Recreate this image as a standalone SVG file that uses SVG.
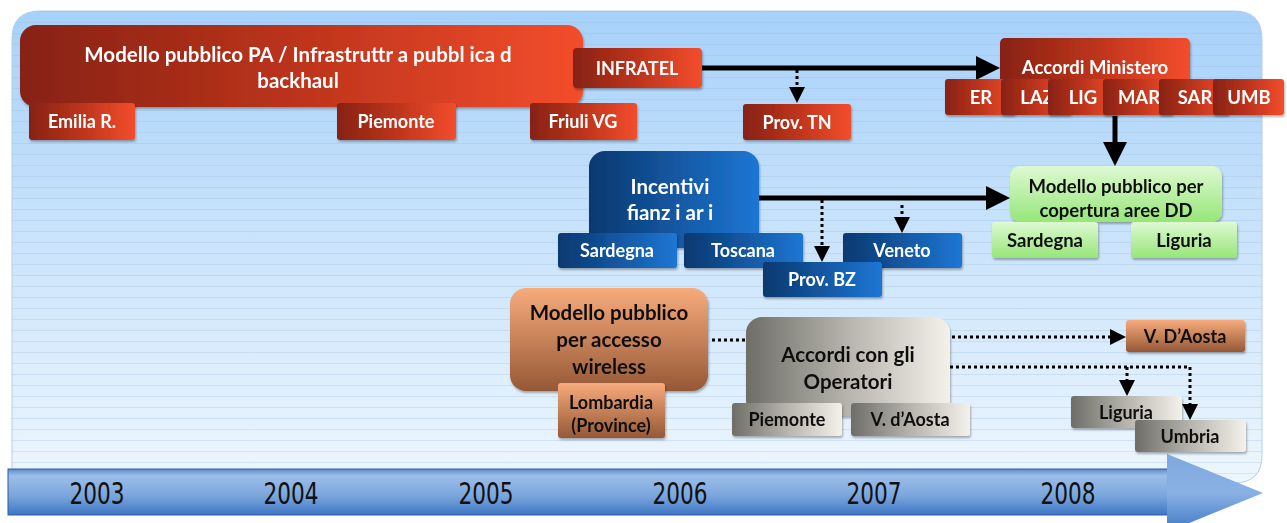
<svg xmlns="http://www.w3.org/2000/svg" width="1287" height="523" viewBox="0 0 1287 523">
<defs>
<style>
.t{font-family:Lato,"Open Sans","Liberation Sans",sans-serif;font-weight:bold;text-anchor:middle}
.w{fill:#ffffff}
.k{fill:#111111}
.s15{font-size:18px}
.s16{font-size:18.5px}
.s17{font-size:20.5px}
.s18{font-size:20.5px}
.yr{font-family:"Liberation Sans Narrow","DejaVu Sans Condensed","Liberation Sans",sans-serif;font-size:31px;fill:#111111;text-anchor:middle}
.thick{stroke:#000000;stroke-width:5;fill:none}
.dot{stroke:#000000;stroke-width:3;stroke-dasharray:3 3;fill:none}
.red{fill:url(#gRed)}
.blue{fill:url(#gBlue)}
.grey{fill:url(#gGrey)}
.green{fill:url(#gGreen)}
.orng{fill:url(#gOrange)}
.box{filter:url(#sh)}
</style>
<linearGradient id="gPanel" x1="0" y1="0" x2="0" y2="1">
<stop offset="0" stop-color="#a7d1fa"/>
<stop offset="0.5" stop-color="#cbe4fb"/>
<stop offset="1" stop-color="#edf6fe"/>
</linearGradient>
<linearGradient id="gRed" x1="0" y1="0" x2="1" y2="0">
<stop offset="0" stop-color="#872212"/>
<stop offset="0.5" stop-color="#bd341c"/>
<stop offset="1" stop-color="#f34d2c"/>
</linearGradient>
<linearGradient id="gBlue" x1="0" y1="0" x2="1" y2="0">
<stop offset="0" stop-color="#0a386f"/>
<stop offset="1" stop-color="#1d76d4"/>
</linearGradient>
<linearGradient id="gGrey" x1="0" y1="0" x2="1" y2="0">
<stop offset="0" stop-color="#6e6e68"/>
<stop offset="0.5" stop-color="#b6b4ac"/>
<stop offset="1" stop-color="#f3f1e9"/>
</linearGradient>
<linearGradient id="gGreen" x1="0" y1="0" x2="0" y2="1">
<stop offset="0" stop-color="#def9d2"/>
<stop offset="1" stop-color="#97e679"/>
</linearGradient>
<linearGradient id="gOrange" x1="0" y1="0" x2="0" y2="1">
<stop offset="0" stop-color="#f7ab7c"/>
<stop offset="1" stop-color="#955836"/>
</linearGradient>
<linearGradient id="gTime" x1="0" y1="0" x2="0" y2="1">
<stop offset="0" stop-color="#5d8dcd"/>
<stop offset="0.15" stop-color="#9cbfea"/>
<stop offset="0.6" stop-color="#79a4db"/>
<stop offset="1" stop-color="#3d76c6"/>
</linearGradient>
<linearGradient id="gHead" x1="0" y1="0" x2="0" y2="1">
<stop offset="0" stop-color="#7ea8df"/>
<stop offset="0.5" stop-color="#8ab1e4"/>
<stop offset="1" stop-color="#3e77c6"/>
</linearGradient>
<pattern id="stripes" width="20" height="11" patternUnits="userSpaceOnUse">
<line x1="0" y1="0.5" x2="20" y2="0.5" stroke="#8fb3d6" stroke-opacity="0.25" stroke-width="1"/>
</pattern>
<filter id="sh" x="-10%" y="-10%" width="120%" height="130%">
<feDropShadow dx="1" dy="2" stdDeviation="1.2" flood-color="#000000" flood-opacity="0.3"/>
</filter>
<marker id="aThick" viewBox="0 0 24 24" markerWidth="24" markerHeight="24" refX="2" refY="12" orient="auto" markerUnits="userSpaceOnUse">
<path d="M0,0 L24,12 L0,24 Z" fill="#000000"/>
</marker>
<marker id="aDot" viewBox="0 0 16 16" markerWidth="16" markerHeight="16" refX="1" refY="8" orient="auto" markerUnits="userSpaceOnUse">
<path d="M0,0 L16,8 L0,16 Z" fill="#000000"/>
</marker>
</defs>

<g id="background">
<path d="M12,483 V39 Q12,11 40,11 H1234 Q1262,11 1262,39 V455 Q1262,483 1234,483 Z" fill="url(#gPanel)" stroke="#b5cfe6" stroke-width="1"/>
<path d="M12,483 V39 Q12,11 40,11 H1234 Q1262,11 1262,39 V455 Q1262,483 1234,483 Z" fill="url(#stripes)"/>
</g>

<g id="timeline">
<rect x="8" y="469" width="1160" height="46" fill="url(#gTime)" stroke="#2f5f9c" stroke-width="1"/>
<polygon points="1167,454 1263,493 1167,532" fill="url(#gHead)"/>
<text class="yr" x="97" y="504" textLength="55" lengthAdjust="spacingAndGlyphs">2003</text>
<text class="yr" x="291" y="504" textLength="55" lengthAdjust="spacingAndGlyphs">2004</text>
<text class="yr" x="486" y="504" textLength="55" lengthAdjust="spacingAndGlyphs">2005</text>
<text class="yr" x="680" y="504" textLength="55" lengthAdjust="spacingAndGlyphs">2006</text>
<text class="yr" x="874" y="504" textLength="55" lengthAdjust="spacingAndGlyphs">2007</text>
<text class="yr" x="1068" y="504" textLength="55" lengthAdjust="spacingAndGlyphs">2008</text>
</g>

<g id="connectors">
<line class="thick" x1="702" y1="68" x2="978" y2="68" marker-end="url(#aThick)"/>
<line class="dot" x1="797" y1="70" x2="797" y2="88" marker-end="url(#aDot)"/>
<line class="thick" x1="1115" y1="116" x2="1115" y2="144" marker-end="url(#aThick)"/>
<line class="thick" x1="759" y1="198" x2="988" y2="198" marker-end="url(#aThick)"/>
<line class="dot" x1="822" y1="200" x2="822" y2="247" marker-end="url(#aDot)"/>
<line class="dot" x1="902" y1="205" x2="902" y2="218" marker-end="url(#aDot)"/>
<line class="dot" x1="712" y1="340" x2="746" y2="340"/>
<line class="dot" x1="952" y1="337" x2="1111" y2="337" marker-end="url(#aDot)"/>
<path class="dot" d="M950,367 H1190 V405" marker-end="url(#aDot)"/>
<line class="dot" x1="1127" y1="367" x2="1127" y2="381" marker-end="url(#aDot)"/>
</g>

<g id="n-backhaul" class="box">
<rect class="red" x="20" y="25" width="563" height="82" rx="16"/>
<text class="t w s17" x="298" y="62">Modello pubblico PA / Infrastruttr a pubbl ica d</text>
<text class="t w s17" x="298" y="88">backhaul</text>
</g>
<g id="n-emilia" class="box">
<rect class="red" x="29" y="103" width="106" height="37" rx="3"/>
<text class="t w s15" x="82" y="128">Emilia R.</text>
</g>
<g id="n-piemonte1" class="box">
<rect class="red" x="337" y="103" width="119" height="37" rx="3"/>
<text class="t w s15" x="396" y="128">Piemonte</text>
</g>
<g id="n-friuli" class="box">
<rect class="red" x="530" y="103" width="107" height="37" rx="3"/>
<text class="t w s15" x="583" y="128">Friuli VG</text>
</g>
<g id="n-infratel" class="box">
<rect class="red" x="573" y="48" width="129" height="40" rx="4"/>
<text class="t w s15" x="637" y="75">INFRATEL</text>
</g>
<g id="n-provtn" class="box">
<rect class="red" x="743" y="104" width="108" height="36" rx="3"/>
<text class="t w s15" x="797" y="129">Prov. TN</text>
</g>

<g id="n-accordi-min" class="box">
<rect class="red" x="1000" y="38" width="190" height="58" rx="5"/>
<text class="t w s16" x="1095" y="74">Accordi Ministero</text>
</g>
<g id="n-er" class="box">
<rect class="red" x="945" y="79" width="70" height="36" rx="3"/>
<text class="t w s16" x="981" y="104">ER</text>
</g>
<g id="n-laz" class="box">
<rect class="red" x="1001" y="79" width="70" height="36" rx="3"/>
<text class="t w s16" x="1037" y="104">LAZ</text>
</g>
<g id="n-lig" class="box">
<rect class="red" x="1048" y="79" width="70" height="36" rx="3"/>
<text class="t w s16" x="1083" y="104">LIG</text>
</g>
<g id="n-mar" class="box">
<rect class="red" x="1103" y="79" width="70" height="36" rx="3"/>
<text class="t w s16" x="1139" y="104">MAR</text>
</g>
<g id="n-sar" class="box">
<rect class="red" x="1159" y="79" width="70" height="36" rx="3"/>
<text class="t w s16" x="1195" y="104">SAR</text>
</g>
<g id="n-umb" class="box">
<rect class="red" x="1213" y="79" width="71" height="36" rx="3"/>
<text class="t w s16" x="1249" y="104">UMB</text>
</g>

<g id="n-incentivi" class="box">
<rect class="blue" x="589" y="151" width="170" height="97" rx="16"/>
<text class="t w s17" x="670" y="194">Incentivi</text>
<text class="t w s17" x="670" y="220">fianz i ar i</text>
</g>
<g id="n-sardegna-b" class="box">
<rect class="blue" x="558" y="233" width="119" height="35" rx="3"/>
<text class="t w s15" x="617" y="257">Sardegna</text>
</g>
<g id="n-toscana" class="box">
<rect class="blue" x="684" y="233" width="119" height="35" rx="3"/>
<text class="t w s15" x="743" y="257">Toscana</text>
</g>
<g id="n-veneto" class="box">
<rect class="blue" x="843" y="233" width="119" height="35" rx="3"/>
<text class="t w s15" x="902" y="257">Veneto</text>
</g>
<g id="n-provbz" class="box">
<rect class="blue" x="763" y="262" width="119" height="35" rx="3"/>
<text class="t w s15" x="822" y="286">Prov. BZ</text>
</g>

<g id="n-copertura" class="box">
<rect class="green" x="1010" y="166" width="212" height="56" rx="10"/>
<text class="t k s16" x="1116" y="193">Modello pubblico per</text>
<text class="t k s16" x="1116" y="217">copertura aree DD</text>
</g>
<g id="n-sardegna-g" class="box">
<rect class="green" x="992" y="222" width="106" height="36" rx="3"/>
<text class="t k s16" x="1045" y="247">Sardegna</text>
</g>
<g id="n-liguria-g" class="box">
<rect class="green" x="1131" y="222" width="106" height="36" rx="3"/>
<text class="t k s16" x="1184" y="247">Liguria</text>
</g>

<g id="n-wireless" class="box">
<rect class="orng" x="510" y="288" width="198" height="103" rx="16"/>
<text class="t k s18" x="609" y="320">Modello pubblico</text>
<text class="t k s18" x="609" y="347">per accesso</text>
<text class="t k s18" x="609" y="374">wireless</text>
</g>
<g id="n-lombardia" class="box">
<rect class="orng" x="558" y="383" width="107" height="55" rx="3"/>
<text class="t k s15" x="611" y="409">Lombardia</text>
<text class="t k s15" x="611" y="432">(Province)</text>
</g>

<g id="n-operatori" class="box">
<rect class="grey" x="746" y="317" width="204" height="99" rx="16"/>
<text class="t k s18" x="848" y="362">Accordi con gli</text>
<text class="t k s18" x="848" y="389">Operatori</text>
</g>
<g id="n-piemonte2" class="box">
<rect class="grey" x="732" y="403" width="110" height="33" rx="3"/>
<text class="t k s15" x="787" y="426">Piemonte</text>
</g>
<g id="n-vdaosta-g" class="box">
<rect class="grey" x="851" y="403" width="119" height="33" rx="3"/>
<text class="t k s15" x="910" y="426">V. d’Aosta</text>
</g>
<g id="n-vdaosta-o" class="box">
<rect class="orng" x="1126" y="320" width="119" height="32" rx="3"/>
<text class="t k s15" x="1185" y="343">V. D’Aosta</text>
</g>
<g id="n-liguria-gr" class="box">
<rect class="grey" x="1071" y="396" width="111" height="32" rx="3"/>
<text class="t k s15" x="1126" y="419">Liguria</text>
</g>
<g id="n-umbria" class="box">
<rect class="grey" x="1135" y="420" width="111" height="32" rx="3"/>
<text class="t k s15" x="1190" y="443">Umbria</text>
</g>
</svg>
